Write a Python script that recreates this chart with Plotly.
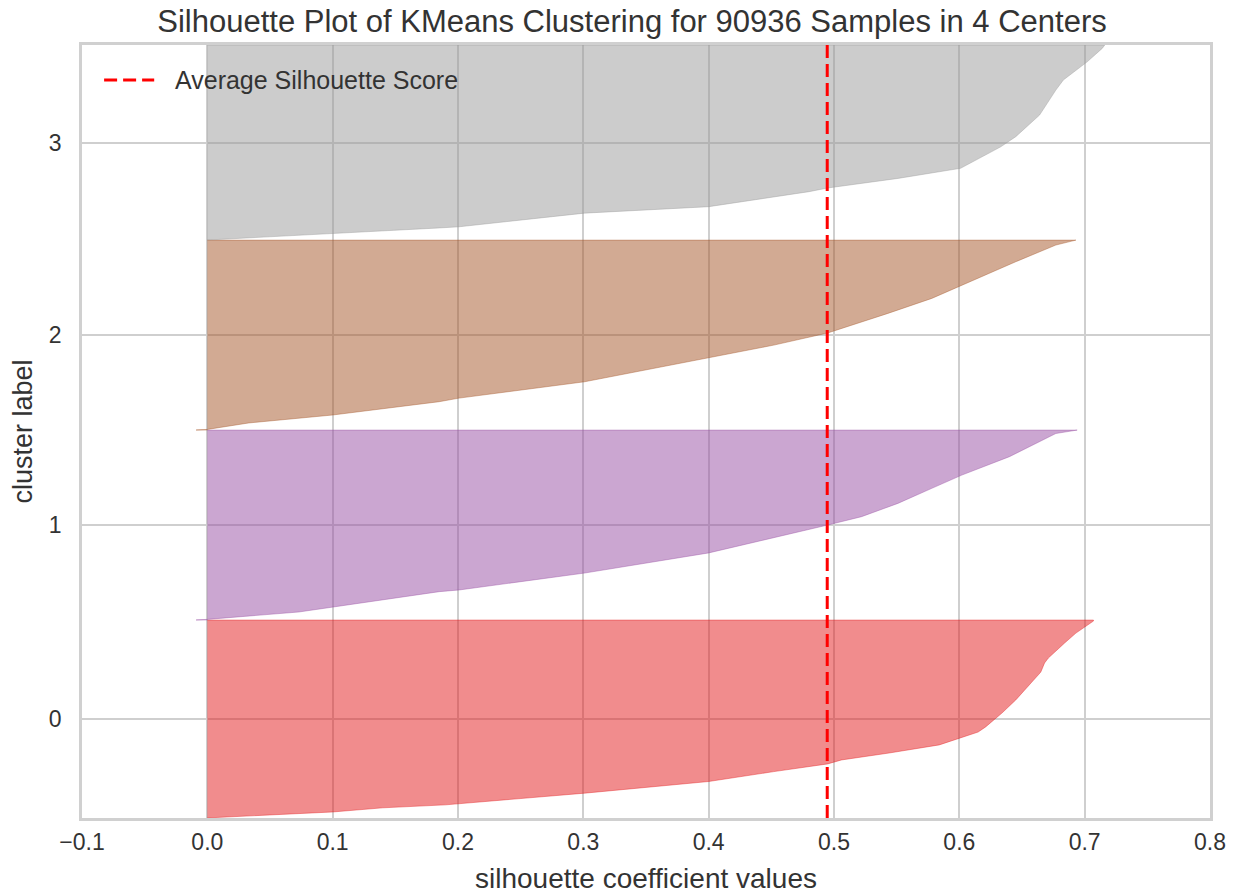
import plotly.graph_objects as go

# ---- data ----
cluster_labels = [0, 1, 2, 3]
cluster_sizes = [23290, 22350, 22350, 22946]
cluster_colors = ["rgba(228,26,28,0.5)", "rgba(152,78,163,0.5)",
                  "rgba(166,86,40,0.5)", "rgba(153,153,153,0.5)"]

# fraction of the cluster (sorted ascending) -> silhouette value
c0_frac = [0.0, 0.030, 0.051, 0.066, 0.125, 0.184, 0.234, 0.273, 0.293, 0.328, 0.369,
           0.409, 0.434, 0.460, 0.530, 0.596, 0.672, 0.737, 0.783, 0.808, 0.884, 0.934, 0.995, 1.0]
c0_vals = [0.0, 0.100, 0.140, 0.190, 0.301, 0.400, 0.452, 0.495, 0.506, 0.544, 0.584,
           0.602, 0.615, 0.621, 0.634, 0.645, 0.656, 0.665, 0.668, 0.671, 0.684, 0.693, 0.707, 0.707]

c1_frac = [0.0, 0.003, 0.042, 0.068, 0.149, 0.158, 0.247, 0.353, 0.432, 0.5, 0.544,
           0.614, 0.693, 0.763, 0.86, 0.938, 0.982, 1.0]
c1_vals = [-0.009, 0.0, 0.073, 0.100, 0.185, 0.201, 0.301, 0.400, 0.452, 0.495, 0.522,
           0.551, 0.578, 0.602, 0.640, 0.664, 0.677, 0.694]

c2_frac = [0.0, 0.003, 0.037, 0.079, 0.149, 0.168, 0.254, 0.379, 0.447, 0.511, 0.561,
           0.614, 0.693, 0.763, 0.886, 0.974, 0.996, 1.0]
c2_vals = [-0.009, 0.0, 0.033, 0.100, 0.185, 0.201, 0.301, 0.400, 0.452, 0.495, 0.519,
           0.543, 0.578, 0.602, 0.645, 0.677, 0.693, 0.693]

c3_frac = [0.0, 0.010, 0.030, 0.062, 0.068, 0.138, 0.171, 0.248, 0.267, 0.316, 0.368, 0.41,
           0.478, 0.53, 0.641, 0.769, 0.821, 0.914, 0.983, 1.0]
c3_vals = [0.0, 0.03, 0.10, 0.185, 0.201, 0.301, 0.400, 0.480, 0.495, 0.551, 0.601, 0.613,
           0.633, 0.645, 0.664, 0.677, 0.683, 0.702, 0.714, 0.716]

avg_score = 0.4946
avg_label = "Average Silhouette Score"
x_ticks = [-0.1, 0.0, 0.1, 0.2, 0.3, 0.4, 0.5, 0.6, 0.7, 0.8]
x_tick_text = ["\u22120.1", "0.0", "0.1", "0.2", "0.3", "0.4", "0.5", "0.6", "0.7", "0.8"]

title = "Silhouette Plot of KMeans Clustering for 90936 Samples in 4 Centers"

fracs = [c0_frac, c1_frac, c2_frac, c3_frac]
vals = [c0_vals, c1_vals, c2_vals, c3_vals]

fig = go.Figure()
gap = 10
y_lower = gap
tick_pos = []
for lab, size, col, fr, vv in zip(cluster_labels, cluster_sizes, cluster_colors, fracs, vals):
    ys = [y_lower + f * size for f in fr]
    xs_poly = [0.0] + list(vv) + [0.0]
    ys_poly = [ys[0]] + ys + [ys[-1]]
    fig.add_trace(go.Scatter(x=xs_poly, y=ys_poly, mode="lines", fill="toself",
                             fillcolor=col, line=dict(width=0.8, color=col),
                             showlegend=False, hoverinfo="skip"))
    tick_pos.append(y_lower + 0.5 * size)
    y_lower = y_lower + size + gap

y_top = y_lower
dash_style = dict(color="red", width=3, dash="13px,6px")
fig.add_trace(go.Scatter(x=[avg_score, avg_score], y=[0, y_top], mode="lines",
                         line=dash_style, name=avg_label, showlegend=False))

# legend drawn manually (line + text) in the upper-left corner
fig.add_shape(type="line", xref="paper", yref="paper", x0=0.0196, x1=0.064,
              y0=0.9547, y1=0.9547, line=dash_style)
fig.add_annotation(text=avg_label, xref="paper", yref="paper", x=0.081, y=0.9547,
                   xanchor="left", yanchor="middle", showarrow=False,
                   font=dict(size=25, color="#333333"))

W, H = 1237, 894
font_fam = "Liberation Sans, Arial, sans-serif"
fig.update_layout(
    width=W, height=H,
    margin=dict(l=82, r=27, t=45, b=76),
    paper_bgcolor="white", plot_bgcolor="white",
    font=dict(family=font_fam, color="#333333", size=23),
    showlegend=False,
    title=dict(text=title, xref="container", x=632 / W, xanchor="center",
               yref="container", y=1 - 21 / H, yanchor="middle",
               font=dict(size=31, color="#333333")),
    xaxis=dict(range=[-0.1, 0.8], tickvals=x_ticks, ticktext=x_tick_text,
               showgrid=True, gridcolor="#cfcfcf", gridwidth=1.5, zeroline=False,
               showline=True, linecolor="#d0d0d0", linewidth=2.5, mirror=True,
               ticks="", ticklen=0, ticklabelstandoff=2, automargin=False,
               title=dict(text="silhouette coefficient values", font=dict(size=28), standoff=18)),
    yaxis=dict(range=[0, y_top], tickvals=tick_pos, ticktext=[str(l) for l in cluster_labels],
               showgrid=True, gridcolor="#cfcfcf", gridwidth=1.5, zeroline=False,
               showline=True, linecolor="#d0d0d0", linewidth=2.5, mirror=True,
               ticks="", ticklen=0, ticklabelstandoff=13, automargin=False,
               title=dict(text="cluster label", font=dict(size=27), standoff=9)),
)

# remove the browser's default 8px body margin so the figure sits at the page origin
fig.write_html("out.html", config={"displayModeBar": False},
               post_script="document.body.style.margin='0';")
